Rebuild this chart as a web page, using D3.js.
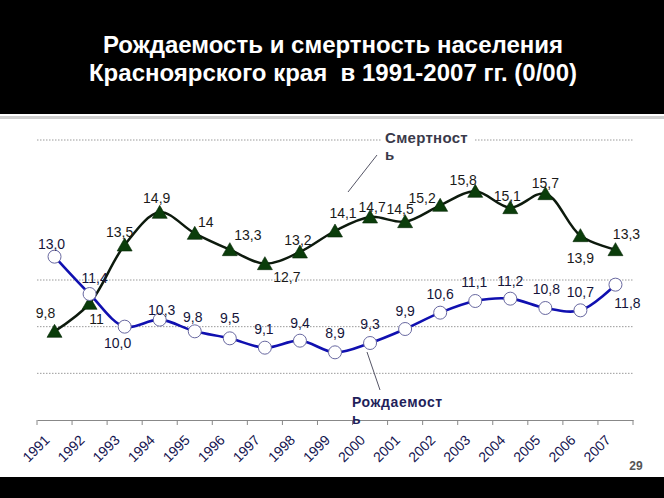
<!DOCTYPE html>
<html><head><meta charset="utf-8">
<script src="https://cdn.jsdelivr.net/npm/d3@7"></script>
<style>
html,body{margin:0;padding:0;background:#fff;}
svg{display:block;}
text{font-family:"Liberation Sans",Arial,sans-serif;}
</style></head>
<body>
<svg id="c" width="664" height="498"></svg>
<script>
const years = ["1991","1992","1993","1994","1995","1996","1997","1998","1999","2000","2001","2002","2003","2004","2005","2006","2007"];
const mortality = [9.8,11,13.5,14.9,14,13.3,12.7,13.2,14.1,14.7,14.5,15.2,15.8,15.1,15.7,13.9,13.3];
const mortalityLabels = ["9,8","11","13,5","14,9","14","13,3","12,7","13,2","14,1","14,7","14,5","15,2","15,8","15,1","15,7","13,9","13,3"];
const births = [13.0,11.4,10.0,10.3,9.8,9.5,9.1,9.4,8.9,9.3,9.9,10.6,11.1,11.2,10.8,10.7,11.8];
const birthLabels = ["13,0","11,4","10,0","10,3","9,8","9,5","9,1","9,4","8,9","9,3","9,9","10,6","11,1","11,2","10,8","10,7","11,8"];
const gridValues = [8,10,12,18];

// label placement (pixel offsets from the point), layout only
const mOff = [[-9,-13],[7,21],[-5,-8],[-3,-9],[11,-6],[18,-10],[22,18],[-2,-7],[8,-13],[2,-5],[-5,-8],[-18,-2],[-12,-6],[-3,-7],[0,-6],[0,27],[11,-11]];
const bOff = [[-3,-8],[5,-11],[-7,21],[2,-5],[-2,-9],[0,-15],[-1,-14],[0,-13],[0,-14],[0,-14],[0,-13],[0,-14],[-1,-14],[0,-13],[1,-14],[0,-13],[12,23]];

const svg = d3.select("#c");
const W = 664, H = 498;

// header band
svg.append("rect").attr("x",0).attr("y",0).attr("width",W).attr("height",114).attr("fill","#000");
svg.append("rect").attr("x",0).attr("y",116).attr("width",W).attr("height",3).attr("fill","#cfcfcf");
svg.append("rect").attr("x",0).attr("y",477).attr("width",W).attr("height",H-477).attr("fill","#000");

svg.append("text").attr("x",333).attr("y",53).attr("text-anchor","middle")
  .attr("fill","#fff").attr("font-size",24).attr("font-weight","bold")
  .style("white-space","pre")
  .text("Рождаемость и смертность населения");
svg.append("text").attr("x",333).attr("y",81).attr("text-anchor","middle")
  .attr("fill","#fff").attr("font-size",24).attr("font-weight","bold")
  .style("white-space","pre")
  .text("Красноярского края  в 1991-2007 гг. (0/00)");

const x = d3.scaleBand().domain(years).range([37,633]).padding(0);
const y = d3.scaleLinear().domain([6,18]).range([420,140]);
const cx = d => x(d) + x.bandwidth()/2;

// gridlines
svg.append("g").selectAll("line").data(gridValues).join("line")
  .attr("x1",37).attr("x2",633).attr("y1",d=>y(d)).attr("y2",d=>y(d))
  .attr("stroke","#9a9a9a").attr("stroke-width",1).attr("stroke-dasharray","1.5,1.5");

// x axis
const xAxis = d3.axisBottom(x).tickSize(5).tickSizeOuter(0);
const gx = svg.append("g").attr("transform","translate(0,420)").call(xAxis);
gx.select(".domain").attr("stroke","#888").attr("stroke-width",1.2);
gx.selectAll(".tick line").attr("stroke","#888").attr("transform",`translate(${-x.bandwidth()/2},0)`);
gx.selectAll(".tick text")
  .attr("fill","#141450").attr("font-size",14).attr("font-family","Liberation Sans, Arial, sans-serif")
  .attr("text-anchor","end").attr("dy",0).attr("y",0)
  .attr("transform","translate(-4,21) rotate(-45)");
// closing tick at right end
svg.append("line").attr("x1",633).attr("x2",633).attr("y1",420).attr("y2",425).attr("stroke","#888");

// mortality line
const line = d3.line().x((d,i)=>cx(years[i])).y(d=>y(d)).curve(d3.curveCatmullRom.alpha(0.5));
svg.append("path").datum(mortality).attr("d",line).attr("fill","none")
  .attr("stroke","#0d1a0d").attr("stroke-width",2.5);
svg.append("g").selectAll("path").data(mortality).join("path")
  .attr("d","M0,-7 L7.5,6 L-7.5,6 Z")
  .attr("transform",(d,i)=>`translate(${cx(years[i])},${y(d)})`)
  .attr("fill","#0b3d0b").attr("stroke","#062806").attr("stroke-width",0.6);

// births line
svg.append("path").datum(births).attr("d",line).attr("fill","none")
  .attr("stroke","#1010b0").attr("stroke-width",2.6);
svg.append("g").selectAll("circle").data(births).join("circle")
  .attr("cx",(d,i)=>cx(years[i])).attr("cy",d=>y(d)).attr("r",6.5)
  .attr("fill","#fff").attr("stroke","#6868a0").attr("stroke-width",1);

// labels
svg.append("g").selectAll("text").data(mortality).join("text")
  .attr("x",(d,i)=>cx(years[i])+mOff[i][0]).attr("y",(d,i)=>y(d)+mOff[i][1])
  .attr("text-anchor","middle").attr("font-size",14).attr("fill","#1a1a1a")
  .text((d,i)=>mortalityLabels[i]);
svg.append("g").selectAll("text").data(births).join("text")
  .attr("x",(d,i)=>cx(years[i])+bOff[i][0]).attr("y",(d,i)=>y(d)+bOff[i][1])
  .attr("text-anchor","middle").attr("font-size",14).attr("fill","#15153a")
  .text((d,i)=>birthLabels[i]);

// annotations
svg.append("rect").attr("x",382).attr("y",136).attr("width",92).attr("height",8).attr("fill","#fff");
svg.append("line").attr("x1",348).attr("y1",192).attr("x2",377).attr("y2",155).attr("stroke","#556").attr("stroke-width",1);
svg.append("text").attr("x",385).attr("y",143).attr("font-size",15).attr("font-weight","bold").attr("fill","#3a3a4a").attr("letter-spacing",0.3).text("Смертност");
svg.append("text").attr("x",385).attr("y",160).attr("font-size",15).attr("font-weight","bold").attr("fill","#3a3a4a").text("ь");

svg.append("line").attr("x1",367).attr("y1",352).attr("x2",380).attr("y2",390).attr("stroke","#556").attr("stroke-width",1);
svg.append("text").attr("x",352).attr("y",407).attr("font-size",14).attr("font-weight","bold").attr("fill","#1f1f5a").attr("letter-spacing",0.6).text("Рождаемост");
svg.append("text").attr("x",352).attr("y",424).attr("font-size",14).attr("font-weight","bold").attr("fill","#1f1f5a").text("ь");

svg.append("text").attr("x",636).attr("y",470).attr("text-anchor","middle").attr("font-size",12).attr("font-weight","bold").attr("fill","#555").text("29");
</script>
</body></html>
